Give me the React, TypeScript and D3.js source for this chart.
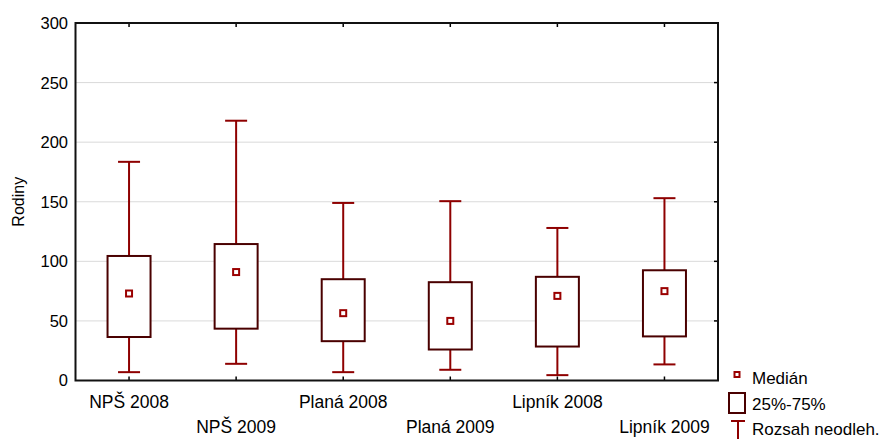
import React from "react";
import * as d3 from "d3";

const categories = ["NPŠ 2008", "NPŠ 2009", "Planá 2008", "Planá 2009", "Lipník 2008", "Lipník 2009"];
const whiskerLow = [7, 14, 7, 9, 4.5, 13.5];
const quartile25 = [36.5, 43.5, 33, 26, 28.5, 37];
const medians = [73, 91, 56.5, 50, 71, 75];
const quartile75 = [104.5, 114.5, 85, 82.5, 87, 92.5];
const whiskerHigh = [183.5, 218, 149, 150.5, 128, 153];
const yTicks = [0, 50, 100, 150, 200, 250, 300];
const legendLabels = ["Medián", "25%-75%", "Rozsah neodleh."];

const W = 887;
const H = 439;
const left = 75.5;
const right = 718;
const top = 23;
const bottom = 380.5;

const FONT = "'Liberation Sans', Arial, sans-serif";
const WHISKER = "#8e0000";
const BOX = "#4a0000";
const MEDIAN = "#9a0000";

export default function App() {
  const x = d3.scaleBand<string>().domain(categories).range([left, right]).paddingInner(0).paddingOuter(0);
  const y = d3.scaleLinear().domain([0, 300]).range([bottom, top]);
  const bw = x.bandwidth();
  const boxW = 43;
  const capW = 22;

  return (
    <svg
      width={W}
      height={H}
      style={{ position: "absolute", left: 0, top: 0, background: "#fff" }}
      fontFamily={FONT}
    >
      {/* grid */}
      {yTicks.slice(1, -1).map((t) => (
        <line key={"g" + t} x1={left} x2={right} y1={y(t)} y2={y(t)} stroke="#dadada" strokeWidth={1} />
      ))}
      {/* right-side and top/bottom inward ticks */}
      {yTicks.slice(1, -1).map((t) => (
        <line key={"rt" + t} x1={right - 4} x2={right} y1={y(t)} y2={y(t)} stroke="#000" strokeWidth={1.5} />
      ))}
      {categories.map((c) => {
        const cx = x(c)! + bw / 2;
        return (
          <g key={"ct" + c}>
            <line x1={cx} x2={cx} y1={top} y2={top + 4} stroke="#000" strokeWidth={1.5} />
            <line x1={cx} x2={cx} y1={bottom} y2={bottom - 4} stroke="#000" strokeWidth={1.5} />
          </g>
        );
      })}
      {/* frame */}
      <rect x={left} y={top} width={right - left} height={bottom - top} fill="none" stroke="#111" strokeWidth={2} />

      {/* y labels */}
      {yTicks.map((t) => (
        <text key={"yl" + t} x={68} y={y(t)} dy="0.36em" textAnchor="end" fontSize={16.5} fill="#000">
          {t}
        </text>
      ))}
      <text
        transform={`translate(24,${(top + bottom) / 2}) rotate(-90)`}
        textAnchor="middle"
        fontSize={16}
        fill="#000"
      >
        Rodiny
      </text>

      {/* x labels, staggered */}
      {categories.map((c, i) => (
        <text
          key={"xl" + c}
          x={x(c)! + bw / 2}
          y={i % 2 === 0 ? 408 : 433}
          textAnchor="middle"
          fontSize={17.5}
          fill="#000"
        >
          {c}
        </text>
      ))}

      {/* boxes */}
      {categories.map((c, i) => {
        const cx = x(c)! + bw / 2;
        return (
          <g key={"b" + c}>
            <line x1={cx} x2={cx} y1={y(whiskerHigh[i])} y2={y(quartile75[i])} stroke={WHISKER} strokeWidth={2} />
            <line x1={cx} x2={cx} y1={y(quartile25[i])} y2={y(whiskerLow[i])} stroke={WHISKER} strokeWidth={2} />
            <line x1={cx - capW / 2} x2={cx + capW / 2} y1={y(whiskerHigh[i])} y2={y(whiskerHigh[i])} stroke={WHISKER} strokeWidth={2} />
            <line x1={cx - capW / 2} x2={cx + capW / 2} y1={y(whiskerLow[i])} y2={y(whiskerLow[i])} stroke={WHISKER} strokeWidth={2} />
            <rect
              x={cx - boxW / 2}
              y={y(quartile75[i])}
              width={boxW}
              height={y(quartile25[i]) - y(quartile75[i])}
              fill="#fff"
              stroke={BOX}
              strokeWidth={2}
            />
            <rect x={cx - 3} y={y(medians[i]) - 3} width={6} height={6} fill="#fff" stroke={MEDIAN} strokeWidth={2} />
          </g>
        );
      })}

      {/* legend */}
      <rect x={734.5} y={372} width={5} height={5} fill="#fff" stroke={MEDIAN} strokeWidth={2} />
      <text x={752} y={378} dy="0.36em" fontSize={17} fill="#000">{legendLabels[0]}</text>
      <rect x={729} y={393} width={16} height={20} fill="#fff" stroke={BOX} strokeWidth={2} />
      <text x={752} y={404} dy="0.36em" fontSize={17} fill="#000">{legendLabels[1]}</text>
      <line x1={731} x2={745} y1={421} y2={421} stroke={WHISKER} strokeWidth={2} />
      <line x1={738} x2={738} y1={421} y2={439} stroke={WHISKER} strokeWidth={2} />
      <text x={752} y={429} dy="0.36em" fontSize={17} fill="#000">{legendLabels[2]}</text>
    </svg>
  );
}
